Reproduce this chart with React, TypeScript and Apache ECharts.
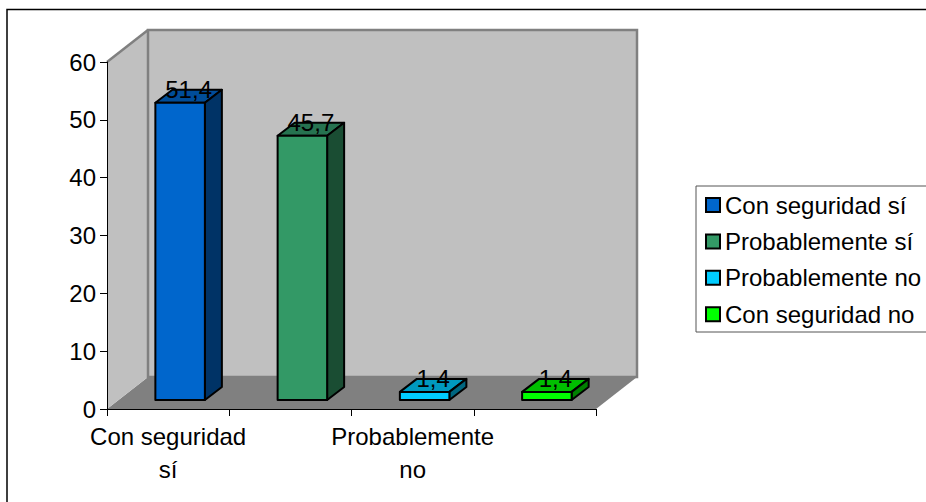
import React, { useEffect, useRef } from "react";
import * as echarts from "echarts";

const categories = ["Con seguridad sí", "Probablemente sí", "Probablemente no", "Con seguridad no"];
const values = [51.4, 45.7, 1.4, 1.4];
const frontColors = ["#0066CC", "#339966", "#00CCFF", "#00FF00"];
const topColors = ["#004D99", "#267350", "#0099BF", "#00BF00"];
const sideColors = ["#003366", "#1A4D33", "#006680", "#008000"];
const FONT = "Liberation Sans, Arial, sans-serif";
const FONT_SIZE = 24;

const WALL_DX = 41;
const WALL_DY = -32;
const BAR_DX = 17;
const BAR_DY = -13;
const BAR_LIFT = 9;
const BAR_SHIFT = 12;

function renderWalls(params: any) {
  const c = params.coordSys;
  const l = c.x, t = c.y, r = c.x + c.width, b = c.y + c.height;
  const st = { fill: "#C0C0C0", stroke: "#808080", lineWidth: 2.5 };
  return {
    type: "group",
    children: [
      { type: "polygon", shape: { points: [[l, b], [l + WALL_DX, b + WALL_DY], [r + WALL_DX, b + WALL_DY], [r, b]] }, style: { fill: "#808080" } },
      { type: "polygon", shape: { points: [[l, t], [l + WALL_DX, t + WALL_DY], [l + WALL_DX, b + WALL_DY], [l, b]] }, style: { fill: "#C0C0C0" } },
      { type: "rect", shape: { x: l + WALL_DX, y: t + WALL_DY, width: c.width, height: c.height }, style: st },
      { type: "line", shape: { x1: l, y1: t, x2: l + WALL_DX, y2: t + WALL_DY }, style: { stroke: "#808080", lineWidth: 2.5 } },
    ],
  };
}

function makeRenderBar(i: number) {
  return (params: any, api: any) => {
    const zero = api.coord([api.value(0), 0]);
    const top = api.coord([api.value(0), api.value(1)]);
    const w = api.size([1, 0])[0] * 0.405;
    const x0 = zero[0] + BAR_SHIFT - w / 2;
    const x1 = x0 + w;
    const yb = zero[1] - BAR_LIFT;
    const yt = top[1] - BAR_LIFT;
    const edge = { stroke: "#000", lineWidth: 2, lineJoin: "round" };
    return {
      type: "group",
      children: [
        { type: "polygon", shape: { points: [[x0, yt], [x0 + BAR_DX, yt + BAR_DY], [x1 + BAR_DX, yt + BAR_DY], [x1, yt]] }, style: { fill: topColors[i], ...edge } },
        { type: "polygon", shape: { points: [[x1, yt], [x1 + BAR_DX, yt + BAR_DY], [x1 + BAR_DX, yb + BAR_DY], [x1, yb]] }, style: { fill: sideColors[i], ...edge } },
        { type: "rect", shape: { x: x0, y: yt, width: w, height: yb - yt }, style: { fill: frontColors[i], ...edge } },
        {
          type: "text",
          style: {
            text: String(api.value(1)).replace(".", ","),
            x: (x0 + x1) / 2 + BAR_DX / 2,
            y: yt - 13,
            align: "center",
            verticalAlign: "middle",
            fill: "#000",
            font: `${FONT_SIZE}px ${FONT}`,
          },
        },
      ],
    };
  };
}

export default function App() {
  const ref = useRef<HTMLDivElement>(null);
  useEffect(() => {
    const chart = echarts.init(ref.current!, undefined, { renderer: "svg" });
    chart.setOption({
      animation: false,
      backgroundColor: "#fff",
      grid: { left: 107, top: 62, width: 489, height: 347 },
      graphic: [
        { type: "rect", z: 0, shape: { x: 7, y: 9.5, width: 1000, height: 600 }, style: { fill: "none", stroke: "#000", lineWidth: 1.5 } },
        { type: "rect", z: 0, shape: { x: 696, y: 186, width: 400, height: 146 }, style: { fill: "#fff", stroke: "#555", lineWidth: 1 } },
      ],
      legend: {
        left: 705,
        top: 193,
        padding: 0,
        orient: "vertical",
        itemWidth: 14,
        itemHeight: 14,
        itemGap: 12.4,
        icon: "rect",
        data: categories,
        itemStyle: { borderColor: "#000", borderWidth: 2 },
        textStyle: { fontFamily: FONT, fontSize: FONT_SIZE, color: "#000", lineHeight: 20 },
      },
      xAxis: {
        type: "category",
        data: categories,
        z: 5,
        axisLine: { lineStyle: { color: "#000", width: 1 } },
        axisTick: { show: true, length: 7, alignWithLabel: false, interval: 0, lineStyle: { color: "#000" } },
        axisLabel: {
          interval: 1,
          margin: 11,
          color: "#000",
          fontFamily: FONT,
          fontSize: FONT_SIZE,
          lineHeight: 33,
          formatter: (v: string) => v.replace(/ (\S+)$/, "\n$1"),
        },
      },
      yAxis: {
        type: "value",
        min: 0,
        max: 60,
        interval: 10,
        z: 5,
        splitLine: { show: false },
        axisLine: { show: true, lineStyle: { color: "#000", width: 1 } },
        axisTick: { show: true, length: 7, lineStyle: { color: "#000" } },
        axisLabel: { margin: 11, color: "#000", fontFamily: FONT, fontSize: FONT_SIZE },
      },
      series: [
        { type: "custom", silent: true, z: 1, renderItem: renderWalls, data: [[0, 0]], encode: { x: 0, y: 1 } },
        ...categories.map((name, i) => ({
          type: "custom",
          name,
          z: 2,
          itemStyle: { color: frontColors[i] },
          renderItem: makeRenderBar(i),
          encode: { x: 0, y: 1 },
          data: [[i, values[i]]],
        })),
      ],
    });
    return () => chart.dispose();
  }, []);
  return <div ref={ref} style={{ position: "absolute", left: 0, top: 0, width: 926, height: 502 }} />;
}
